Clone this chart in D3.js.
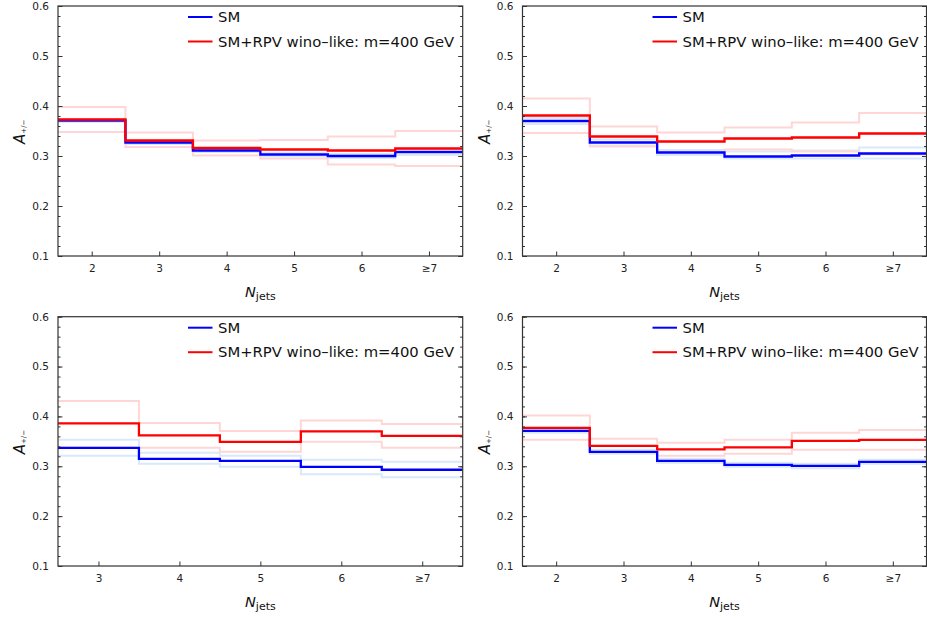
<!DOCTYPE html>
<html><head><meta charset="utf-8">
<script src="https://cdn.jsdelivr.net/npm/d3@7"></script>
<style>body{margin:0;background:#fff}svg{display:block}text{font-family:"DejaVu Sans",sans-serif}</style>
</head><body><svg id="c" width="927" height="621"></svg>
<script>
// categories
const njetsFrom2 = [2, 3, 4, 5, 6, 7];
const njetsFrom3 = [3, 4, 5, 6, 7];
const tickLabelsFrom2 = ["2", "3", "4", "5", "6", "≥7"];
const tickLabelsFrom3 = ["3", "4", "5", "6", "≥7"];
const yTicks = [0.1, 0.2, 0.3, 0.4, 0.5, 0.6];
const legendLabels = ["SM", "SM+RPV wino–like: m=400 GeV"];

// top-left panel
const tlSM      = [0.371, 0.327, 0.311, 0.303, 0.300, 0.308];
const tlSMUp    = [0.374, 0.330, 0.314, 0.307, 0.304, 0.314];
const tlSMDn    = [0.368, 0.324, 0.308, 0.299, 0.296, 0.302];
const tlRPV     = [0.373, 0.331, 0.316, 0.313, 0.311, 0.315];
const tlRPVUp   = [0.398, 0.347, 0.331, 0.332, 0.339, 0.350];
const tlRPVDn   = [0.348, 0.318, 0.301, 0.295, 0.283, 0.280];
// top-right panel
const trSM      = [0.370, 0.327, 0.307, 0.299, 0.301, 0.305];
const trSMUp    = [0.376, 0.333, 0.312, 0.309, 0.311, 0.317];
const trSMDn    = [0.364, 0.321, 0.302, 0.295, 0.295, 0.295];
const trRPV     = [0.381, 0.339, 0.329, 0.335, 0.337, 0.345];
const trRPVUp   = [0.415, 0.359, 0.347, 0.357, 0.367, 0.386];
const trRPVDn   = [0.346, 0.319, 0.308, 0.313, 0.309, 0.303];
// bottom-left panel
const blSM      = [0.337, 0.315, 0.311, 0.299, 0.293];
const blSMUp    = [0.353, 0.327, 0.321, 0.313, 0.309];
const blSMDn    = [0.321, 0.305, 0.299, 0.284, 0.278];
const blRPV     = [0.386, 0.362, 0.349, 0.370, 0.361];
const blRPVUp   = [0.431, 0.387, 0.371, 0.392, 0.385];
const blRPVDn   = [0.337, 0.337, 0.329, 0.349, 0.337];
// bottom-right panel
const brSM      = [0.371, 0.329, 0.311, 0.303, 0.301, 0.309];
const brSMUp    = [0.375, 0.333, 0.315, 0.307, 0.305, 0.313];
const brSMDn    = [0.367, 0.325, 0.307, 0.299, 0.296, 0.305];
const brRPV     = [0.377, 0.341, 0.334, 0.338, 0.351, 0.353];
const brRPVUp   = [0.402, 0.355, 0.347, 0.353, 0.367, 0.373];
const brRPVDn   = [0.353, 0.328, 0.321, 0.325, 0.333, 0.333];

const panels = [
  {x0: 58,    x1: 462.7, y0: 6,     y1: 256, cats: njetsFrom2, labels: tickLabelsFrom2,
   sm: tlSM, smUp: tlSMUp, smDn: tlSMDn, rpv: tlRPV, rpvUp: tlRPVUp, rpvDn: tlRPVDn},
  {x0: 522.5, x1: 926.5, y0: 6,     y1: 256, cats: njetsFrom2, labels: tickLabelsFrom2,
   sm: trSM, smUp: trSMUp, smDn: trSMDn, rpv: trRPV, rpvUp: trRPVUp, rpvDn: trRPVDn},
  {x0: 58,    x1: 462.7, y0: 316.7, y1: 566, cats: njetsFrom3, labels: tickLabelsFrom3,
   sm: blSM, smUp: blSMUp, smDn: blSMDn, rpv: blRPV, rpvUp: blRPVUp, rpvDn: blRPVDn},
  {x0: 522.5, x1: 926.5, y0: 316.7, y1: 566, cats: njetsFrom2, labels: tickLabelsFrom2,
   sm: brSM, smUp: brSMUp, smDn: brSMDn, rpv: brRPV, rpvUp: brRPVUp, rpvDn: brRPVDn}
];

const svg = d3.select("#c");
const frameCol = "#333";

panels.forEach(p => {
  const g = svg.append("g");
  const x = d3.scaleLinear().domain([p.cats[0] - 0.5, p.cats[p.cats.length - 1] + 0.5]).range([p.x0, p.x1]);
  const y = d3.scaleLinear().domain([0.1, 0.6]).range([p.y1, p.y0]);

  const clipId = "clip" + Math.round(p.x0) + "_" + Math.round(p.y0);
  svg.append("clipPath").attr("id", clipId).append("rect")
    .attr("x", p.x0).attr("y", p.y0).attr("width", p.x1 - p.x0).attr("height", p.y1 - p.y0);

  const stepLine = vals => {
    const pts = p.cats.map((c, i) => [c - 0.5, vals[i]]);
    pts.push([p.cats[p.cats.length - 1] + 0.5, vals[vals.length - 1]]);
    return d3.line().x(d => x(d[0])).y(d => y(d[1])).curve(d3.curveStepAfter)(pts);
  };
  const plot = g.append("g").attr("clip-path", `url(#${clipId})`);
  const series = [
    {v: p.smUp,  c: "#d9e9fb", w: 2},
    {v: p.smDn,  c: "#d9e9fb", w: 2},
    {v: p.rpvUp, c: "#ffd6d6", w: 2},
    {v: p.rpvDn, c: "#ffd6d6", w: 2},
    {v: p.sm,    c: "#0000ff", w: 2.3},
    {v: p.rpv,   c: "#ff0000", w: 2.3}
  ];
  series.forEach(s => plot.append("path").attr("d", stepLine(s.v))
    .attr("fill", "none").attr("stroke", s.c).attr("stroke-width", s.w));

  // y axis left (inward ticks)
  const yMinor = d3.range(0.1, 0.6001, 0.02);
  const yl = g.append("g").attr("transform", `translate(${p.x0},0)`)
    .call(d3.axisLeft(y).tickValues(yMinor).tickSize(-2.5).tickFormat(""));
  yl.select(".domain").remove();
  const yl2 = g.append("g").attr("transform", `translate(${p.x0},0)`)
    .call(d3.axisLeft(y).tickValues(yTicks).tickSize(-4.5).tickPadding(9).tickFormat(d3.format(".1f")));
  yl2.select(".domain").remove();
  yl2.selectAll("text").attr("font-size", 10.5).attr("fill", "#222").attr("font-family", "DejaVu Sans");
  // right
  const yr = g.append("g").attr("transform", `translate(${p.x1},0)`)
    .call(d3.axisRight(y).tickValues(yMinor).tickSize(-2.5).tickFormat(""));
  yr.select(".domain").remove();
  const yr2 = g.append("g").attr("transform", `translate(${p.x1},0)`)
    .call(d3.axisRight(y).tickValues(yTicks).tickSize(-4.5).tickFormat(""));
  yr2.select(".domain").remove();
  // x axis bottom
  const xa = g.append("g").attr("transform", `translate(0,${p.y1})`)
    .call(d3.axisBottom(x).tickValues(p.cats).tickSize(-4.5).tickPadding(9)
      .tickFormat((d, i) => p.labels[i]));
  xa.select(".domain").remove();
  xa.selectAll("text").attr("font-size", 10.5).attr("fill", "#222").attr("font-family", "DejaVu Sans");
  g.selectAll(".tick line").attr("stroke", frameCol).attr("stroke-width", 1);

  // frame
  g.append("rect").attr("x", p.x0).attr("y", p.y0).attr("width", p.x1 - p.x0).attr("height", p.y1 - p.y0)
    .attr("fill", "none").attr("stroke", frameCol).attr("stroke-width", 1.2);

  // legend
  const lg = g.append("g").attr("transform", `translate(${p.x0 + 130},${p.y0 + 11})`);
  [["#0000ff", 0], ["#ff0000", 24.5]].forEach((d, i) => {
    lg.append("line").attr("x1", 0).attr("x2", 24.5).attr("y1", d[1]).attr("y2", d[1])
      .attr("stroke", d[0]).attr("stroke-width", 2);
    lg.append("text").attr("x", 30).attr("y", d[1] + 5).attr("font-size", 14.8).attr("fill", "#111")
      .text(legendLabels[i]);
  });

  // x label
  const cx = (p.x0 + p.x1) / 2;
  const xl = g.append("text").attr("x", cx).attr("y", p.y1 + 41).attr("text-anchor", "middle").attr("fill", "#111");
  xl.append("tspan").attr("font-style", "italic").attr("font-size", 14.5).text("N");
  xl.append("tspan").attr("font-size", 11).attr("dy", 3).text("jets");

  // y label
  const cy = (p.y0 + p.y1) / 2;
  const ylab = g.append("text").attr("transform", `translate(${p.x0 - 33},${cy + 13}) rotate(-90)`).attr("fill", "#111");
  ylab.append("tspan").attr("font-style", "italic").attr("font-size", 15).text("A");
  ylab.append("tspan").attr("font-size", 7).attr("dy", 1).attr("dx", 0).text("+/−");
});
</script></body></html>
